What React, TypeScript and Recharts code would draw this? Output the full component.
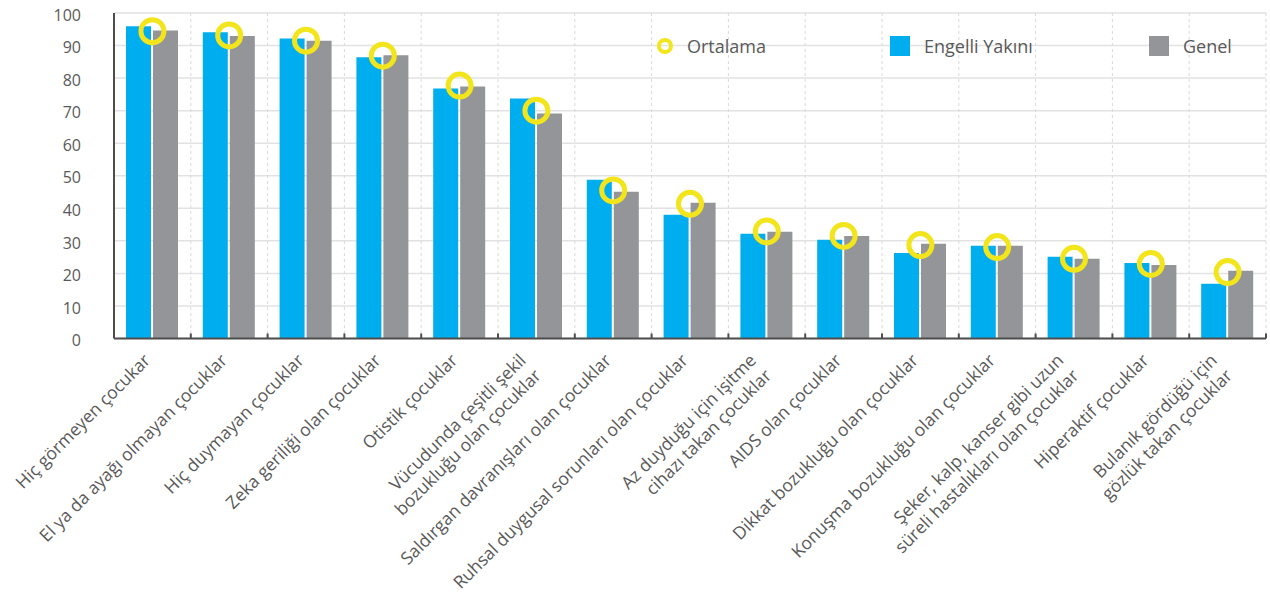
import { ComposedChart, Bar, Line, XAxis, YAxis, CartesianGrid, Legend } from 'recharts';

const CATEGORIES = [
  'Hiç görmeyen çocukar',
  'El ya da ayağı olmayan çocuklar',
  'Hiç duymayan çocuklar',
  'Zeka geriliği olan çocuklar',
  'Otistik çocuklar',
  'Vücudunda çeşitli şekil\nbozukluğu olan çocuklar',
  'Saldırgan davranışları olan çocuklar',
  'Ruhsal duygusal sorunları olan çocuklar',
  'Az duyduğu için işitme\ncihazı takan çocuklar',
  'AIDS olan çocuklar',
  'Dikkat bozukluğu olan çocuklar',
  'Konuşma bozukluğu olan çocuklar',
  'Şeker, kalp, kanser gibi uzun\nsüreli hastalıkları olan çocuklar',
  'Hiperaktif çocuklar',
  'Bulanık gördüğü için\ngözlük takan çocuklar',
];

const ENGELLI_YAKINI = [95.9, 94.1, 92.2, 86.4, 76.8, 73.7, 48.8, 38.0, 32.2, 30.3, 26.3, 28.5, 25.1, 23.2, 16.8];
const GENEL = [94.6, 92.9, 91.5, 87.0, 77.4, 69.1, 45.1, 41.7, 32.8, 31.5, 29.1, 28.5, 24.5, 22.6, 20.8];
const ORTALAMA = [94.4, 93.1, 91.5, 86.9, 77.7, 70.0, 45.5, 41.4, 32.9, 31.5, 28.7, 28.1, 24.5, 22.9, 20.4];

const Y_TICKS = [0, 10, 20, 30, 40, 50, 60, 70, 80, 90, 100];

const BLUE = '#00aeef';
const GRAY = '#939598';
const YELLOW = '#f3e51b';
const TEXT = '#595959';
const AXIS = '#4d4d4d';

const WIDTH = 1270;
const HEIGHT = 599;
const MARGIN = { top: 13, right: 4, bottom: 0, left: 0 };
const Y_AXIS_W = 114;
const BAND = (WIDTH - MARGIN.left - MARGIN.right - Y_AXIS_W) / CATEGORIES.length;

const data = CATEGORIES.map((name, i) => ({
  name,
  engelli: ENGELLI_YAKINI[i],
  genel: GENEL[i],
  ortalama: ORTALAMA[i],
}));

// category labels rotated 45deg, some on two lines
const XTick = ({ x, y, payload }: any) => {
  const lines = String(payload.value).split('\n');
  const edge = x + BAND / 2;
  return (
    <g>
      <line x1={edge} x2={edge} y1={y} y2={y - 5} stroke={AXIS} strokeWidth={2} />
      <g transform={`translate(${x - 1},${y + 23}) rotate(-45)`}>
        {lines.map((line, i) => (
          <text
            key={i}
            x={lines.length > 1 ? -6 : 0}
            y={lines.length > 1 ? (i === 0 ? -6 : 15.5) : 0}
            textAnchor="end"
            fill={TEXT}
            fontSize={17.5}
          >
            {line}
          </text>
        ))}
      </g>
    </g>
  );
};

const LEGEND_ITEMS = [
  { label: 'Ortalama', kind: 'ring', color: YELLOW, left: 657 },
  { label: 'Engelli Yakını', kind: 'square', color: BLUE, left: 890 },
  { label: 'Genel', kind: 'square', color: GRAY, left: 1149 },
];

const renderLegend = () => (
  <div style={{ position: 'relative', width: WIDTH, height: 24 }}>
    {LEGEND_ITEMS.map((item) => (
      <div
        key={item.label}
        style={{ position: 'absolute', left: item.left, top: 0, height: 20, display: 'flex', alignItems: 'center' }}
      >
        {item.kind === 'ring' ? (
          <span
            style={{
              width: 8,
              height: 8,
              borderRadius: '50%',
              border: `4px solid ${item.color}`,
              marginRight: 14,
            }}
          />
        ) : (
          <span style={{ width: 20, height: 20, background: item.color, marginRight: 14 }} />
        )}
        <span style={{ color: TEXT, fontSize: 18 }}>{item.label}</span>
      </div>
    ))}
  </div>
);

export default function App() {
  return (
    <div
      style={{
        position: 'absolute',
        left: 0,
        top: 0,
        width: WIDTH,
        height: HEIGHT,
        background: '#fff',
        fontFamily: '"Open Sans", sans-serif',
      }}
    >
      <ComposedChart width={WIDTH} height={HEIGHT} data={data} margin={MARGIN} barGap={2}>
        <CartesianGrid stroke="#e2e2e2" strokeWidth={1.5} vertical={false} />
        <CartesianGrid
          stroke="#d9d9d9"
          strokeDasharray="3 3"
          horizontal={false}
          verticalCoordinatesGenerator={({ offset }: any) =>
            CATEGORIES.map((_c, i) => offset.left + (i + 1) * (offset.width / CATEGORIES.length))
          }
        />
        <XAxis
          dataKey="name"
          interval={0}
          height={HEIGHT - MARGIN.top - 325.5}
          tickLine={false}
          tickSize={0}
          tickMargin={0}
          axisLine={{ stroke: AXIS, strokeWidth: 2 }}
          tick={<XTick />}
        />
        <YAxis
          domain={[0, 100]}
          ticks={Y_TICKS}
          width={Y_AXIS_W}
          tickLine={false}
          tickSize={0}
          tickMargin={33}
          axisLine={{ stroke: AXIS, strokeWidth: 2 }}
          tick={{ fill: TEXT, fontSize: 16, dy: 2 }}
        />
        <Legend
          layout="horizontal"
          verticalAlign="middle"
          align="center"
          wrapperStyle={{ left: 0, top: 36, width: WIDTH }}
          content={renderLegend}
        />
        <Bar dataKey="engelli" name="Engelli Yakını" fill={BLUE} barSize={25} isAnimationActive={false} />
        <Bar dataKey="genel" name="Genel" fill={GRAY} barSize={25} isAnimationActive={false} />
        <Line
          dataKey="ortalama"
          name="Ortalama"
          stroke="none"
          dot={{ r: 11.5, fill: 'none', stroke: YELLOW, strokeWidth: 5 }}
          activeDot={false}
          isAnimationActive={false}
        />
      </ComposedChart>
    </div>
  );
}
